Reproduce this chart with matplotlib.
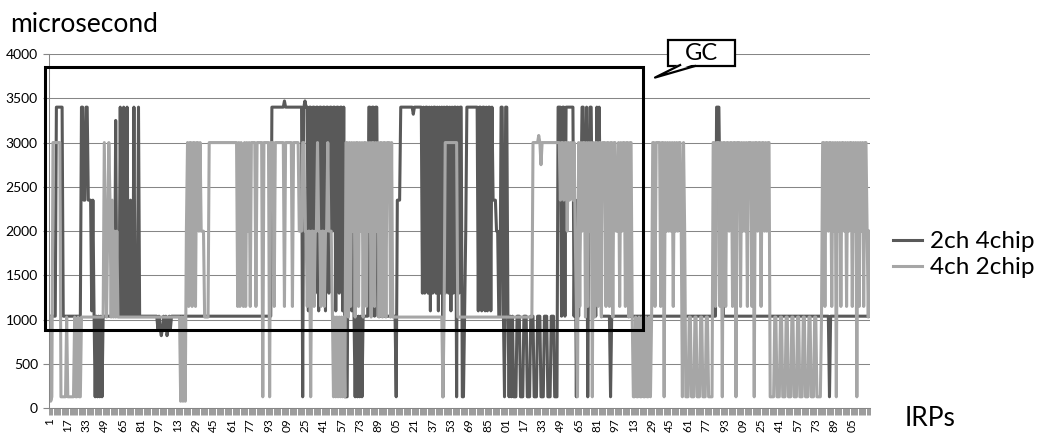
import numpy as np
import matplotlib
matplotlib.use("Agg")
import matplotlib.pyplot as plt
from matplotlib.patches import Rectangle, Polygon

plt.rcParams['font.family'] = ['Lato', 'DejaVu Sans']

# level codes (microseconds)
DARK_LEVELS = {'H': 3400, 'h': 3470, 'g': 3320, 's': 3250, 'M': 2350, 'D': 2000,
               'c': 1300, 'm': 1100, 'B': 1040, 'd': 900, 'k': 820, 'L': 130}
LIGHT_LEVELS = {'T': 3000, 'u': 3080, 't': 2750, 'M': 2350, 'D': 2000,
                'm': 1150, 'B': 1030, 'L': 130, 'v': 80}

# 2ch 4chip, one code per IRP
dark_codes = (
    "B" * 6 + "H" * 6 + "B" * 16 + "HHMMHHMMMmMm" + "LBLBLBLB" + "B" * 10
    + "sBBBHBBHBBHBBMBBHBBBHBBB"
    + "B" * 12 + "BdBdkdBdBkdBdBB" + "B" * 5
    + "B" * 81
    + "H" * 11 + "h" + "H" * 15
    + "LHhHHmHHDHHcHHmHHDHHmHHcHHDHHmHHcHHmHLL"
    + "LMMMmMB" + "LBLBLBLB" + "BBB"
    + "BHHBHHBHHBBB" + "B" * 13 + "LMMM"
    + "H" * 11 + "g" + "H" * 6
    + "HcHcHHcHmHcHHcHmHcHLHcHHcHmHcHHLHcHHL"
    + "LBDHHH" + "HHHHHHHmHHmHHmHmHHmH" + "MMMDDB" + "BHHmLHHBLBLB"
    + "LLLBBB" * 6 + "LLL"
    + "HHHB" + "HHBH" + "HHHHHHBM" + "L" + "MBDMH" + "HMDHLM" + "HHDMDB" + "HDHMB"
    + "B" * 7 + "L" + "B" * 92 + "HHHMMM" + "B" * 93 + "L" + "B" * 35
)

# 4ch 2chip, one code per IRP
light_codes = (
    "BvL" + "T" * 7 + "LLLLLBLLLLLLBLLBLLB" + "B" * 19
    + "TDBDTMBMBDBDBB" + "B" * 53 + "vBvBv"
    + "DTmTTmTTmTTDTDD" + "DBBBBT" + "T" * 23
    + "TmTmTDmTmTDTmTTTTmTTTTTLTTTTTLT"
    + "TTmTTTTTTTTmTTTTTTmTTTTTDDD"
    + "TTDDmDD" + "L" + "DDmDDTDDmD" + "DmDDTDDDm" + "LBLBLBLBLBLT"
    + "TBTmTDTBTTmTDTBTTmTDTBTTmTDTBTTBTTBTTTBTB"
    + "B" * 42 + "BLB" + "T" * 11 + "B" * 66
    + "TTTTTuTtTTTTTTTTTTTTTTT"
    + "TMTTMTTDTMTTMTDm" + "L" + "TmTDTTBTmTDT" + "L" + "TBTTmTTBT"
    + "TTmTTmTTBTTDDTmTDTTmTTBTTB"
    + "LLBLLBLLBLLBLLBLB"
    + "TTmTTTTmTTLTDTDTDTmTDTDTTDLTD"
    + "LLLBBLLLBBLLLBBLLLBBLLLL"
    + "TTmTTTmTLTTmTTDTTmTTLTTTmTDTDTmTTTmTLTTDTTmTTDTDTTL"
    + "LLLBB" * 8 + "LLLLB"
    + "TTmTTDTTmTDT" + "L" + "TDTmTTDTmTDTTmTDT" + "L" + "TmTDTmTTDBD"
)

dark = np.array([DARK_LEVELS[c] for c in dark_codes])
light = np.array([LIGHT_LEVELS[c] for c in light_codes])

tick_labels = ["1", "17", "33", "49", "65", "81", "97", "13", "29", "45", "61", "77",
               "93", "09", "25", "41", "57", "73", "89", "05", "21", "37", "53", "69",
               "85", "01", "17", "33", "49", "65", "81", "97", "13", "29", "45", "61",
               "77", "93", "09", "25", "41", "57", "73", "89", "05"]
n_irps = 720

fig = plt.figure(figsize=(10.4, 4.34), dpi=100)
ax = fig.add_axes([0.0471, 0.0592, 0.7894, 0.8164])

ax.plot(np.arange(1, len(dark) + 1), dark, color='#595959', lw=2.2, label='2ch 4chip')
ax.plot(np.arange(1, len(light) + 1), light, color='#a6a6a6', lw=2.2, label='4ch 2chip')

ax.set_xlim(0.5, n_irps + 0.5)
ax.set_ylim(0, 4000)
ax.set_yticks(np.arange(0, 4001, 500))
ax.yaxis.grid(True, color='#868686', lw=0.75)
ax.set_axisbelow(True)

ax.set_xticks(np.arange(1, 16 * len(tick_labels), 16))
ax.set_xticklabels(tick_labels, rotation=90)
ax.set_xticks(np.arange(0.5, n_irps + 1, 1), minor=True)
ax.tick_params(axis='x', which='major', length=0, pad=7, labelsize=8.5)
ax.tick_params(axis='x', which='minor', length=5, color='#9a9a9a', width=0.7)
ax.tick_params(axis='y', length=4, color='#868686', labelsize=10, pad=4)

for s in ['top', 'right']:
    ax.spines[s].set_visible(False)
for s in ['left', 'bottom']:
    ax.spines[s].set_color('#868686')
    ax.spines[s].set_linewidth(0.75)

# GC region box
ax.add_patch(Rectangle((-3.0, 880), 524.3, 2975, fill=False, ec='black', lw=2.2,
                       clip_on=False, zorder=5))
# GC callout
ax.add_patch(Rectangle((543.5, 3864), 58.8, 294, fc='white', ec='black', lw=1.6,
                       clip_on=False, zorder=6))
ax.add_patch(Polygon([(554, 3890), (532, 3734), (567, 3890)], closed=True, fc='white',
                     ec='none', clip_on=False, zorder=7))
ax.plot([554, 532, 567], [3875, 3734, 3864], color='black', lw=1.6, clip_on=False, zorder=7)
ax.text(573, 4008, 'GC', ha='center', va='center', fontsize=17, zorder=8)

fig.text(10 / 1040, 1 - 32 / 434, 'microsecond', fontsize=19, ha='left', va='baseline')
fig.text(905 / 1040, 1 - 426 / 434, 'IRPs', fontsize=19, ha='left', va='baseline')

ax.legend(loc='center left', bbox_to_anchor=(1.028, 0.433), frameon=False, fontsize=17.5,
          handlelength=1.2, handletextpad=0.33, labelspacing=0.2, borderpad=0,
          borderaxespad=0)

fig.savefig('out.png', dpi=100)
